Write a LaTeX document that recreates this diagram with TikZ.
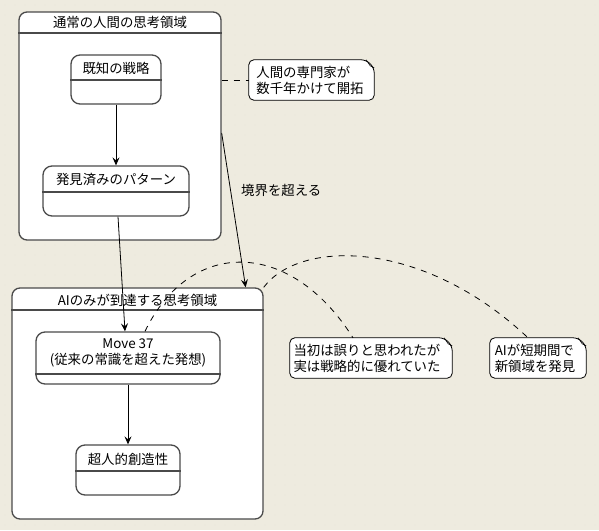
\documentclass[tikz,border=0pt]{standalone}
\usepackage{fontspec}
\setmainfont{Noto Sans CJK JP}
\usetikzlibrary{arrows.meta,calc}
\definecolor{bg}{HTML}{EEEBDF}
\definecolor{dotc}{HTML}{DDD9C9}
\definecolor{edge}{HTML}{4A4A4A}
\newcommand\drawnote[1]{%
  \draw[notedraw, fill=white, rounded corners=5pt] ([xshift=-8pt]#1.north east) -- (#1.north west) -- (#1.south west) -- (#1.south east) -- ([yshift=-8pt]#1.north east) -- cycle;
  \draw[notedraw, line width=0.6pt] ([xshift=-8pt]#1.north east) -- ([xshift=-4pt,yshift=-6pt]#1.north east) -- ([yshift=-8pt]#1.north east);
}
\begin{document}
\begin{tikzpicture}[x=1pt,y=-1pt,
  font=\fontsize{13.4}{16}\selectfont,
  region/.style={draw=edge, line width=1.3pt, fill=white, rounded corners=8pt, rectangle, inner sep=0pt},
  statebox/.style={draw=edge, line width=1.3pt, fill=white, rounded corners=9pt, rectangle, inner sep=0pt},
  sepline/.style={draw=edge, line width=1.3pt},
  notebox/.style={rectangle, inner sep=0pt, align=left},
  notedraw/.style={draw=black, line width=0.8pt},
  arrow/.style={-{Stealth[length=8pt,width=7pt,inset=3pt]}, line width=0.8pt, black},
  dashline/.style={line width=0.8pt, dash pattern=on 6pt off 6pt, black},
  lbl/.style={inner sep=0pt}
]
\fill[bg] (0,0) rectangle (599,530);
\useasboundingbox (0,0) rectangle (599,530);
\foreach \x in {5,15,...,595} \foreach \y in {5,15,...,525} \fill[dotc] (\x,\y) circle (0.45pt);

% regions
\node[region, minimum width=202pt, minimum height=228pt] (human) at (120,126) {};
\draw[sepline] (human.west |- 0,33) -- (human.east |- 0,33);
\node[lbl] (humant) at (120,22) {通常の人間の思考領域};

\node[region, minimum width=251pt, minimum height=231pt] (ai) at (137.5,403.5) {};
\draw[sepline] (ai.west |- 0,310) -- (ai.east |- 0,310);
\node[lbl] (ait) at (137.5,300) {AIのみが到達する思考領域};

% states
\node[statebox, minimum width=90pt, minimum height=49pt] (known) at (116,79.5) {};
\draw[sepline] (known.west |- 0,80) -- (known.east |- 0,80);
\node[lbl] (knownt) at (116,68) {既知の戦略};

\node[statebox, minimum width=146pt, minimum height=50pt] (pattern) at (116,191) {};
\draw[sepline] (pattern.west |- 0,192) -- (pattern.east |- 0,192);
\node[lbl] (patternt) at (116,179) {発見済みのパターン};

\node[statebox, minimum width=184pt, minimum height=52pt] (move) at (128,358) {};
\draw[sepline] (move.west |- 0,374) -- (move.east |- 0,374);
\node[lbl, align=center] (movet) at (128,353) {Move 37\\(従来の常識を超えた発想)};

\node[statebox, minimum width=104pt, minimum height=50pt] (super) at (128,470) {};
\draw[sepline] (super.west |- 0,471) -- (super.east |- 0,471);
\node[lbl] (supert) at (128,459) {超人的創造性};

% notes
\node[notebox, minimum width=125pt, minimum height=40pt] (n1) at (311.5,80) {};
\drawnote{n1}
\node[lbl, align=left] (n1t) at (310,80) {人間の専門家が\\数千年かけて開拓};

\node[notebox, minimum width=162pt, minimum height=40pt] (n2) at (371,358) {};
\drawnote{n2}
\node[lbl, align=left] (n2t) at (367,358) {当初は誤りと思われたが\\実は戦略的に優れていた};

\node[notebox, minimum width=96pt, minimum height=40pt] (n3) at (538,358) {};
\drawnote{n3}
\node[lbl, align=left] (n3t) at (535,358) {AIが短期間で\\新領域を発見};

% arrows
\draw[arrow] (known) -- (pattern);
\draw[arrow] ([xshift=2pt]pattern.south) -- ([xshift=-3pt]move.north);
\draw[arrow] (move) -- (super);
\coordinate (bstart) at (human.east |- 0,133);
\draw[arrow] (bstart) -- ([xshift=-18pt]ai.north east);
\node[lbl, anchor=west] (blbl) at (241,190) {境界を超える};

% dashed note links
\draw[dashline] (human.east |- n1) -- (n1.west);
\draw[dashline] ([xshift=17pt]move.north) .. controls (190,238) and (290,238) .. ([xshift=-18pt]n2.north);
\draw[dashline] (ai.north east) .. controls (300,239) and (423,239) .. ([xshift=-10pt]n3.north);
\end{tikzpicture}
\end{document}
